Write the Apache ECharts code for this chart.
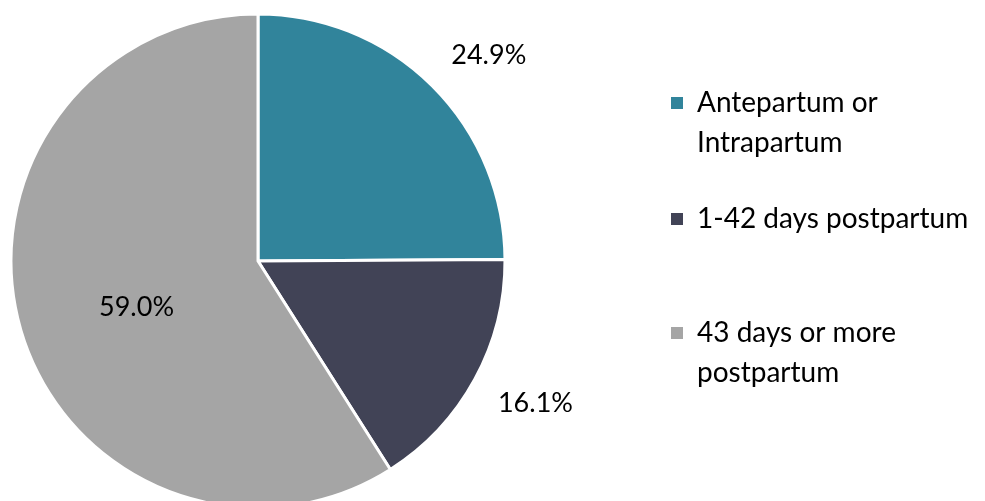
<!DOCTYPE html>
<html><head><meta charset="utf-8">
<script src="https://cdn.jsdelivr.net/npm/echarts@6/dist/echarts.min.js"></script>
<style>html,body{margin:0;padding:0;background:#fff}#c{width:985px;height:501px}</style>
</head><body><div id="c"></div>
<script>
const categories = ['Antepartum or\nIntrapartum', '1-42 days postpartum', '43 days or more\npostpartum'];
const values = [24.9, 16.1, 59.0];
const colors = ['#31849B', '#414356', '#A5A5A5'];

const FONT = 'Lato';
const FS = 27;
const chart = echarts.init(document.getElementById('c'));
const legendTops = [43, 199, 273];
const legends = categories.map((name, i) => {
  const multi = name.indexOf('\n') >= 0;
  return {
    orient: 'vertical', left: 669, top: legendTops[i], padding: 0,
    icon: 'path://M0,0h14v14h-14z', itemWidth: 30, itemHeight: 14,
    selectedMode: false,
    data: [name],
    formatter: n => multi ? '\u00a0\n' + n : n,
    textStyle: { fontFamily: FONT, fontSize: 28, color: '#000', lineHeight: 40 }
  };
});
const labelShift = [{ dx: -14, dy: -2 }, { dx: -17, dy: 5 }, { dy: 11 }];
chart.setOption({
  animation: false,
  legend: legends,
  series: [{
    type: 'pie',
    center: [258, 261],
    radius: 247,
    startAngle: 90,
    clockwise: true,
    data: categories.map((n, i) => ({
      name: n, value: values[i], itemStyle: { color: colors[i] },
      label: i === 2 ? { position: 'inside' } : { position: 'outside' }
    })),
    itemStyle: { borderColor: '#fff', borderWidth: 3 },
    label: {
      show: true, fontFamily: FONT, fontSize: FS, color: '#000',
      formatter: p => p.value.toFixed(1) + '%'
    },
    labelLine: { show: false, length: 40, length2: 0 },
    labelLayout: p => labelShift[p.dataIndex]
  }]
});
</script></body></html>
